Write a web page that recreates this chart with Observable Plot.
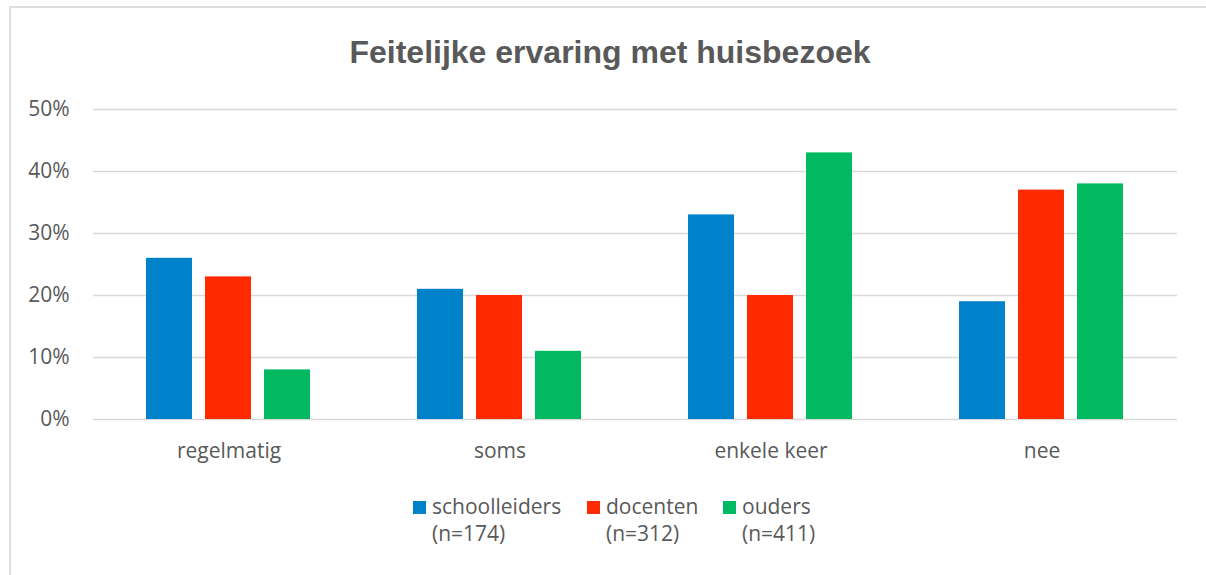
<!DOCTYPE html>
<html>
<head>
<meta charset="utf-8">
<script src="https://cdn.jsdelivr.net/npm/d3@7"></script>
<script src="https://cdn.jsdelivr.net/npm/@observablehq/plot@0.6"></script>
<style>
  html, body { margin: 0; padding: 0; background: #fff; }
  #fig { position: relative; width: 1206px; height: 575px; overflow: hidden; }
  #frame { position: absolute; left: 9px; top: 6px; width: 1300px; height: 700px;
           border-left: 2px solid #dedede; border-top: 2px solid #dedede; }
  #title { position: absolute; left: 0; top: 34px; width: 1220px; text-align: center;
           font-family: "Liberation Sans", Arial, sans-serif; font-weight: bold; font-size: 32px; color: #595959; }
  #chart { position: absolute; left: 0; top: 80px; }
  .leg { position: absolute; top: 493px; font-family: "Open Sans", sans-serif; font-size: 21px; color: #595959; line-height: 27px; }
  .leg .sw { position: absolute; left: -19px; top: 8px; width: 13px; height: 13px; }
</style>
</head>
<body>
<div id="fig">
  <div id="frame"></div>
  <div id="title">Feitelijke ervaring met huisbezoek</div>
  <div id="chart"></div>
  <div id="legend"></div>
</div>
<script>
const categories = ["regelmatig", "soms", "enkele keer", "nee"];
const series = ["schoolleiders", "docenten", "ouders"];
const counts = ["(n=174)", "(n=312)", "(n=411)"];
const schoolleiders = [26, 21, 33, 19];
const docenten = [23, 20, 20, 37];
const ouders = [8, 11, 43, 38];
const colors = ["#0082CA", "#FF2A00", "#00B960"];
const yTicks = [0, 10, 20, 30, 40, 50];
const legendX = [432, 606, 742];

const valuesBySeries = [schoolleiders, docenten, ouders];
const data = [];
categories.forEach((c, i) => {
  series.forEach((s, j) => data.push({category: c, series: s, value: valuesBySeries[j][i]}));
});

const chart = Plot.plot({
  width: 1206,
  height: 389,
  marginTop: 29,
  marginLeft: 92,
  marginRight: 29,
  marginBottom: 50,
  style: {fontFamily: "'Open Sans', sans-serif", fontSize: "21px", color: "#595959", background: "transparent"},
  fx: {domain: categories, padding: 0, label: null},
  x: {domain: series, paddingInner: 0.2167, paddingOuter: 0.867, axis: null},
  y: {domain: [0, 50], label: null},
  color: {domain: series, range: colors},
  marks: [
    Plot.gridY(yTicks, {stroke: "#d9d9d9", strokeOpacity: 1, strokeWidth: 1.5}),
    Plot.barY(data, {fx: "category", x: "series", y: "value", fill: "series"}),
    Plot.axisY(yTicks, {tickSize: 0, tickPadding: 24, tickFormat: d => d + "%", label: null}),
    Plot.axisFx({anchor: "bottom", tickSize: 0, tickPadding: 24, label: null})
  ]
});
document.getElementById("chart").appendChild(chart);

const legend = document.getElementById("legend");
series.forEach((s, j) => {
  const d = document.createElement("div");
  d.className = "leg";
  d.style.left = legendX[j] + "px";
  d.innerHTML = `<span class="sw" style="background:${colors[j]}"></span>${s}<br>${counts[j]}`;
  legend.appendChild(d);
});
</script>
</body>
</html>
